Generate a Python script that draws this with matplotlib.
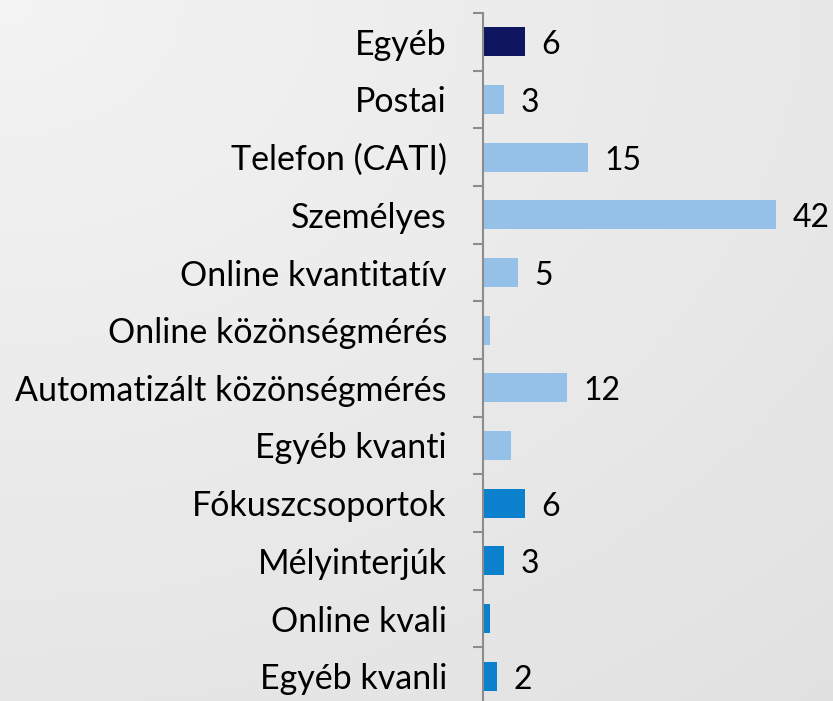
import matplotlib.pyplot as plt
import numpy as np

categories = ["Egyéb", "Postai", "Telefon (CATI)", "Személyes", "Online kvantitatív",
              "Online közönségmérés", "Automatizált közönségmérés", "Egyéb kvanti",
              "Fókuszcsoportok", "Mélyinterjúk", "Online kvali", "Egyéb kvanli"]
values = [6, 3, 15, 42, 5, 1, 12, 4, 6, 3, 1, 2]
labels = ["6", "3", "15", "42", "5", "", "12", "", "6", "3", "", "2"]
colors = ["#10155f"] + ["#95c1e8"] * 7 + ["#0b80cd"] * 4

plt.rcParams['font.family'] = ['Lato', 'DejaVu Sans']

W, H = 833, 701
fig = plt.figure(figsize=(W / 100, H / 100), dpi=100)

# background gradient
bg = fig.add_axes([0, 0, 1, 1])
yy, xx = np.mgrid[0:1:200j, 0:1:200j]
grad = 0.955 - 0.07 * np.sqrt((xx * 0.8) ** 2 + (yy * 0.9) ** 2) / 1.2
bg.imshow(np.dstack([grad, grad, grad]), extent=[0, 1, 0, 1], aspect='auto')
bg.axis('off')

ax = fig.add_axes([483 / W, -4 / H, 1 - 483 / W, (H - 13 + 4) / H])
ax.patch.set_alpha(0)
y = np.arange(len(categories))
ax.barh(y, values, height=0.5, color=colors)
ax.set_ylim(len(categories) - 0.5, -0.5)
ax.set_xlim(0, 50.1)

for yi, v, lab in zip(y, values, labels):
    if lab:
        ax.text(v + 2.4, yi + 0.06, lab, va='center', ha='left', fontsize=23, color='black')

ax.set_yticks(y)
ax.set_yticklabels(categories, fontsize=24.5)
ax.set_yticks(np.arange(-0.5, len(categories)), minor=True)
ax.tick_params(axis='y', which='major', length=0, pad=26)
ax.tick_params(axis='y', which='minor', length=7, width=1.5, color='#8c8c8c')
ax.set_xticks([])
for s in ['top', 'right', 'bottom']:
    ax.spines[s].set_visible(False)
ax.spines['left'].set_color('#8c8c8c')
ax.spines['left'].set_linewidth(1.5)

fig.savefig("out.png", dpi=100)
